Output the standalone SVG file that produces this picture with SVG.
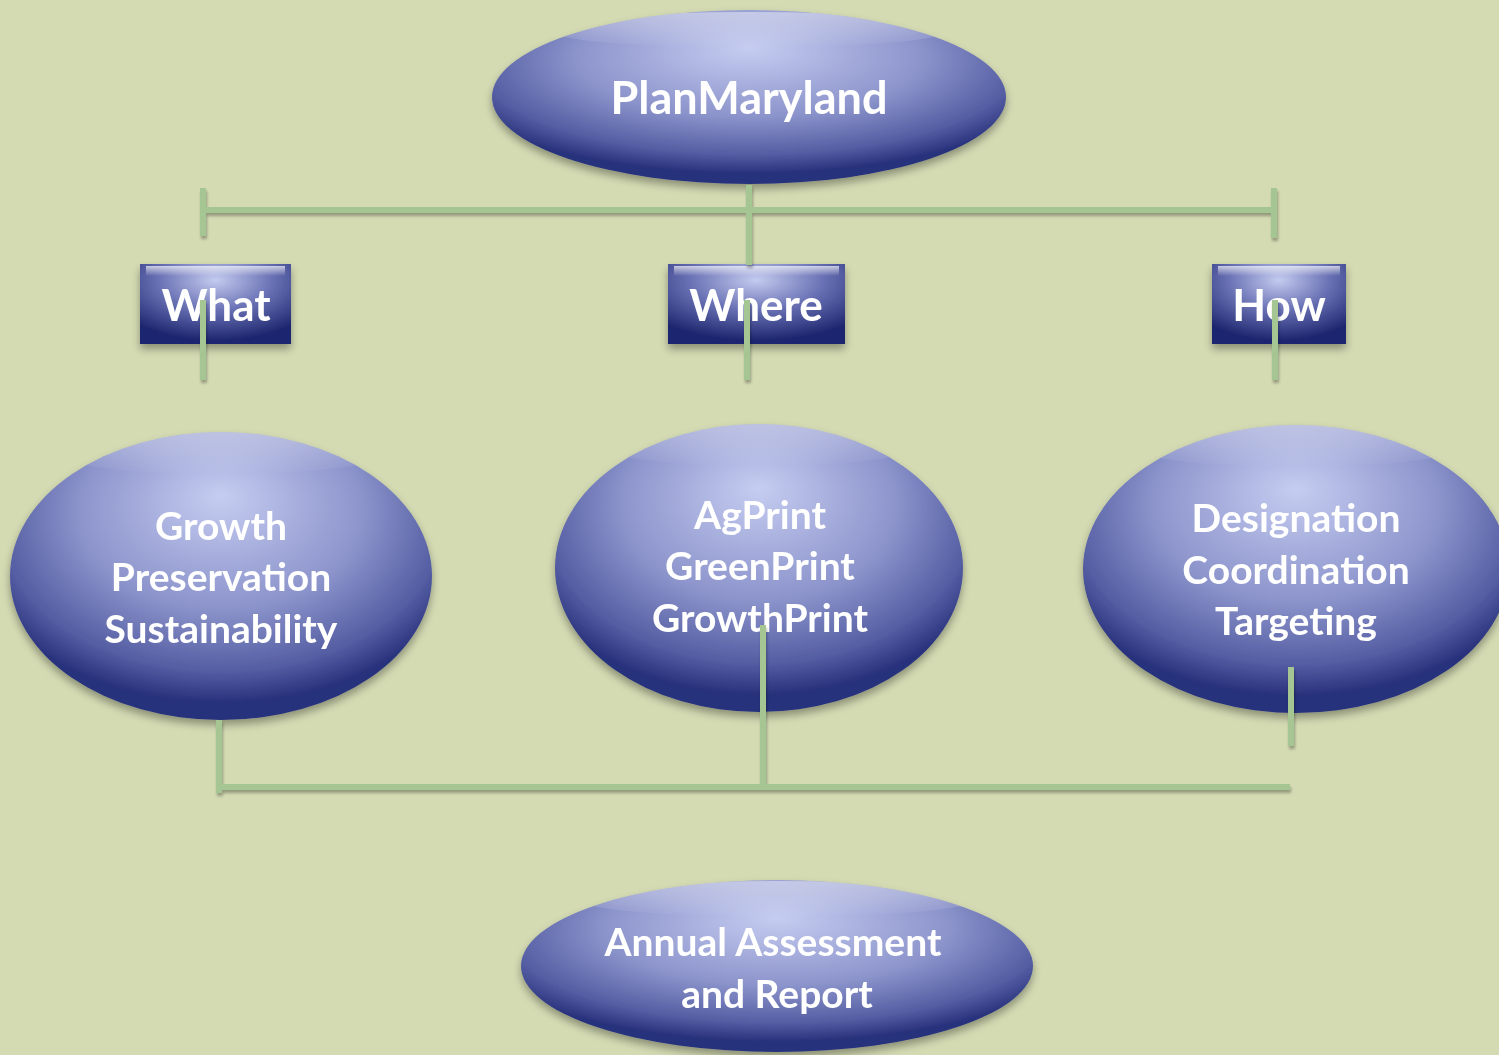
<svg xmlns="http://www.w3.org/2000/svg" width="1499" height="1055" viewBox="0 0 1499 1055">
<style>
.lbl{font-family:"Lato","Open Sans","Liberation Sans",sans-serif;font-weight:bold;fill:#ffffff;text-anchor:middle}
.big{font-size:45px}
.mid{font-size:39px}
.box{font-size:44px}
.conn line{stroke:#a5c592;stroke-width:6;stroke-linecap:butt}
</style>
<defs>
<radialGradient id="eg" cx="50%" cy="32%" r="62%" fx="50%" fy="22%">
<stop offset="0" stop-color="#c6cdf1"/>
<stop offset="0.55" stop-color="#8b93cb"/>
<stop offset="0.85" stop-color="#545da2"/>
<stop offset="1" stop-color="#28317c"/>
</radialGradient>
<radialGradient id="bg" cx="50%" cy="20%" r="75%">
<stop offset="0" stop-color="#c4cbef"/>
<stop offset="0.5" stop-color="#6a72b5"/>
<stop offset="1" stop-color="#1f2870"/>
</radialGradient>
<linearGradient id="hl" x1="0" y1="0" x2="0" y2="1">
<stop offset="0" stop-color="#ffffff" stop-opacity="0.85"/>
<stop offset="1" stop-color="#ffffff" stop-opacity="0"/>
</linearGradient>
<filter id="sh" x="-10%" y="-10%" width="120%" height="130%">
<feGaussianBlur in="SourceAlpha" stdDeviation="4"/>
<feOffset dy="5"/>
<feComponentTransfer><feFuncA type="linear" slope="0.35"/></feComponentTransfer>
<feMerge><feMergeNode/><feMergeNode in="SourceGraphic"/></feMerge>
</filter>
<filter id="lsh" filterUnits="userSpaceOnUse" x="0" y="0" width="1499" height="1055">
<feGaussianBlur in="SourceAlpha" stdDeviation="1.5"/>
<feOffset dx="1" dy="3"/>
<feComponentTransfer><feFuncA type="linear" slope="0.3"/></feComponentTransfer>
<feMerge><feMergeNode/><feMergeNode in="SourceGraphic"/></feMerge>
</filter>
<clipPath id="c1"><ellipse cx="749" cy="97" rx="257" ry="87"/></clipPath>
<clipPath id="c2"><ellipse cx="221" cy="576" rx="211" ry="144"/></clipPath>
<clipPath id="c3"><ellipse cx="759" cy="568" rx="204" ry="144"/></clipPath>
<clipPath id="c4"><ellipse cx="1296" cy="569" rx="213" ry="144"/></clipPath>
<clipPath id="c5"><ellipse cx="777" cy="966" rx="256" ry="86"/></clipPath>
</defs>
<rect width="1499" height="1055" fill="#d4dbb3"/>

<g id="planmaryland" filter="url(#sh)">
<ellipse cx="749" cy="97" rx="257" ry="87" fill="url(#eg)"/>
<ellipse cx="749" cy="30" rx="200" ry="18" fill="url(#hl)" opacity="0.5" clip-path="url(#c1)"/>
<text class="lbl big" x="749" y="114">PlanMaryland</text>
</g>

<g id="what" filter="url(#sh)">
<rect x="140" y="264" width="151" height="80" fill="url(#bg)"/>
<rect x="146" y="266" width="139" height="10" fill="url(#hl)" opacity="0.8"/>
<text class="lbl box" x="216" y="321">What</text>
</g>
<g id="where" filter="url(#sh)">
<rect x="668" y="264" width="177" height="80" fill="url(#bg)"/>
<rect x="674" y="266" width="165" height="10" fill="url(#hl)" opacity="0.8"/>
<text class="lbl box" x="756" y="321">Where</text>
</g>
<g id="how" filter="url(#sh)">
<rect x="1212" y="264" width="134" height="80" fill="url(#bg)"/>
<rect x="1218" y="266" width="122" height="10" fill="url(#hl)" opacity="0.8"/>
<text class="lbl box" x="1279" y="321">How</text>
</g>

<g id="growth" filter="url(#sh)">
<ellipse cx="221" cy="576" rx="211" ry="144" fill="url(#eg)"/>
<ellipse cx="221" cy="452" rx="170" ry="22" fill="url(#hl)" opacity="0.45" clip-path="url(#c2)"/>
<text class="lbl mid" x="221" y="540">Growth</text>
<text class="lbl mid" x="221" y="591">Preservation</text>
<text class="lbl mid" x="221" y="643">Sustainability</text>
</g>
<g id="prints" filter="url(#sh)">
<ellipse cx="759" cy="568" rx="204" ry="144" fill="url(#eg)"/>
<ellipse cx="759" cy="444" rx="165" ry="22" fill="url(#hl)" opacity="0.45" clip-path="url(#c3)"/>
<text class="lbl mid" x="760" y="529">AgPrint</text>
<text class="lbl mid" x="760" y="580">GreenPrint</text>
<text class="lbl mid" x="760" y="632">GrowthPrint</text>
</g>
<g id="designation" filter="url(#sh)">
<ellipse cx="1296" cy="569" rx="213" ry="144" fill="url(#eg)"/>
<ellipse cx="1296" cy="445" rx="170" ry="22" fill="url(#hl)" opacity="0.45" clip-path="url(#c4)"/>
<text class="lbl mid" x="1296" y="532">Designation</text>
<text class="lbl mid" x="1296" y="584">Coordination</text>
<text class="lbl mid" x="1296" y="635">Targeting</text>
</g>

<g id="annual" filter="url(#sh)">
<ellipse cx="777" cy="966" rx="256" ry="86" fill="url(#eg)"/>
<ellipse cx="777" cy="899" rx="200" ry="18" fill="url(#hl)" opacity="0.5" clip-path="url(#c5)"/>
<text class="lbl mid" x="773" y="956">Annual Assessment</text>
<text class="lbl mid" x="777" y="1008">and Report</text>
</g>

<g id="connectors" class="conn" filter="url(#lsh)">
<line x1="203" y1="210" x2="1274" y2="210"/>
<line x1="203" y1="188" x2="203" y2="236"/>
<line x1="1274" y1="188" x2="1274" y2="238"/>
<line x1="749" y1="185" x2="749" y2="265"/>
<line x1="203" y1="300" x2="203" y2="380"/>
<line x1="747" y1="300" x2="747" y2="380"/>
<line x1="1275" y1="300" x2="1275" y2="380"/>
<line x1="763" y1="625" x2="763" y2="787"/>
<line x1="219" y1="720" x2="219" y2="793"/>
<line x1="219" y1="787" x2="1290" y2="787"/>
<line x1="1291" y1="667" x2="1291" y2="746"/>
</g>
</svg>
